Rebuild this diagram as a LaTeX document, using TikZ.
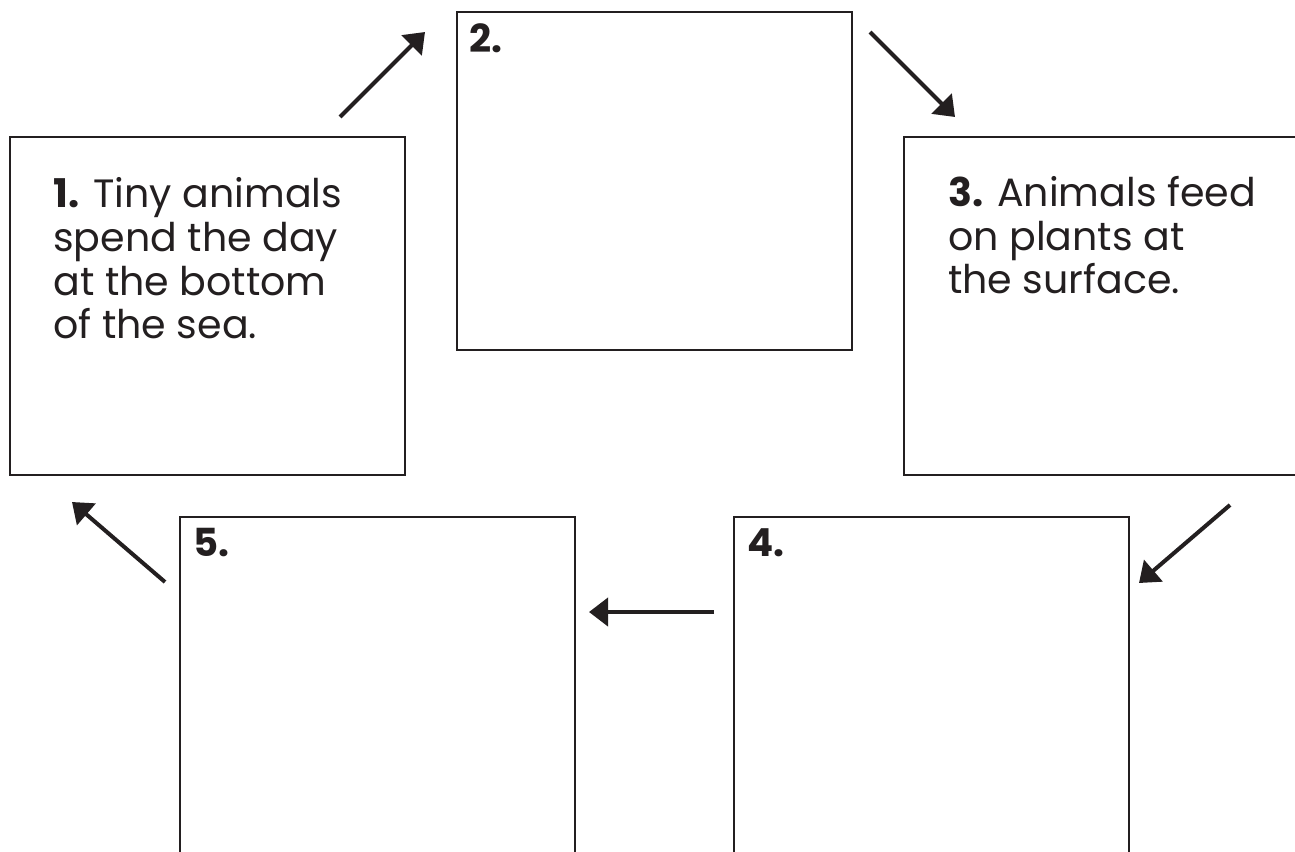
\documentclass[tikz,border=0pt]{standalone}
\usepackage{fontspec}
\setmainfont{Poppins}
\usepackage{xcolor}
\usepackage{tikz}
\usetikzlibrary{arrows.meta}
\usetikzlibrary{positioning}
\definecolor{inkBlack}{HTML}{231F20}
\tikzset{stage-box/.style={draw=inkBlack, line width=0.04cm, inner sep=0, outer sep=0, minimum width=7.9cm, minimum height=6.76cm}}
\tikzset{stage-num/.style={inner sep=0, text=inkBlack, font=\fontsize{22}{25}\selectfont\bfseries}}
\tikzset{stage-text/.style={inner sep=0, text=inkBlack, align=left, font=\fontsize{22.5}{25}\selectfont}}
\tikzset{cycle-arrow/.style={-{Triangle[length=0.38cm, width=0.56cm]}, line width=0.08cm, draw=inkBlack}}

\begin{document}
\begin{tikzpicture}[x=0.02cm, y=-0.02cm]
    \useasboundingbox (0,0) rectangle (1295,852);
    \clip (0,0) rectangle (1295,852);

    % boxes
    \node[stage-box, anchor=north west] (box1) at (10,137) {};
    \node[stage-box, right=1.04cm of box1, yshift=2.5cm] (box2) {};
    \node[stage-box, right=1.04cm of box2, yshift=-2.5cm] (box3) {};
    \node[stage-box, below=0.84cm of box1.south west, anchor=north west, xshift=3.4cm] (box5) {};
    \node[stage-box, right=3.18cm of box5] (box4) {};

    % labels (base = baseline of the last line)
    \node[stage-text, below right=4.04cm and 0.86cm of box1.north west, anchor=base west] (label1) {\textbf{1.} Tiny animals\\spend the day\\at the bottom\\of the sea.};
    \node[stage-num, below right=0.8cm and 0.24cm of box2.north west, anchor=base west] (label2) {2.};
    \node[stage-text, below right=3.14cm and 0.88cm of box3.north west, anchor=base west] (label3) {\textbf{3.} Animals feed\\on plants at\\the surface.};
    \node[stage-num, below right=0.8cm and 0.26cm of box4.north west, anchor=base west] (label4) {4.};
    \node[stage-num, below right=0.8cm and 0.26cm of box5.north west, anchor=base west] (label5) {5.};

    % arrows
    \coordinate (a12-tail) at (340,117);
    \coordinate (a12-tip) at (425,32);
    \coordinate (a23-tail) at (870,32);
    \coordinate (a23-tip) at (955,117);
    \coordinate (a34-tail) at (1230,505);
    \coordinate (a34-tip) at (1139,583);
    \coordinate (a45-tail) at (714,612);
    \coordinate (a45-tip) at (589,612);
    \coordinate (a51-tail) at (165,582);
    \coordinate (a51-tip) at (72,502);
    \draw[cycle-arrow] (a12-tail) -- (a12-tip);
    \draw[cycle-arrow] (a23-tail) -- (a23-tip);
    \draw[cycle-arrow] (a34-tail) -- (a34-tip);
    \draw[cycle-arrow] (a45-tail) -- (a45-tip);
    \draw[cycle-arrow] (a51-tail) -- (a51-tip);
\end{tikzpicture}
\end{document}
